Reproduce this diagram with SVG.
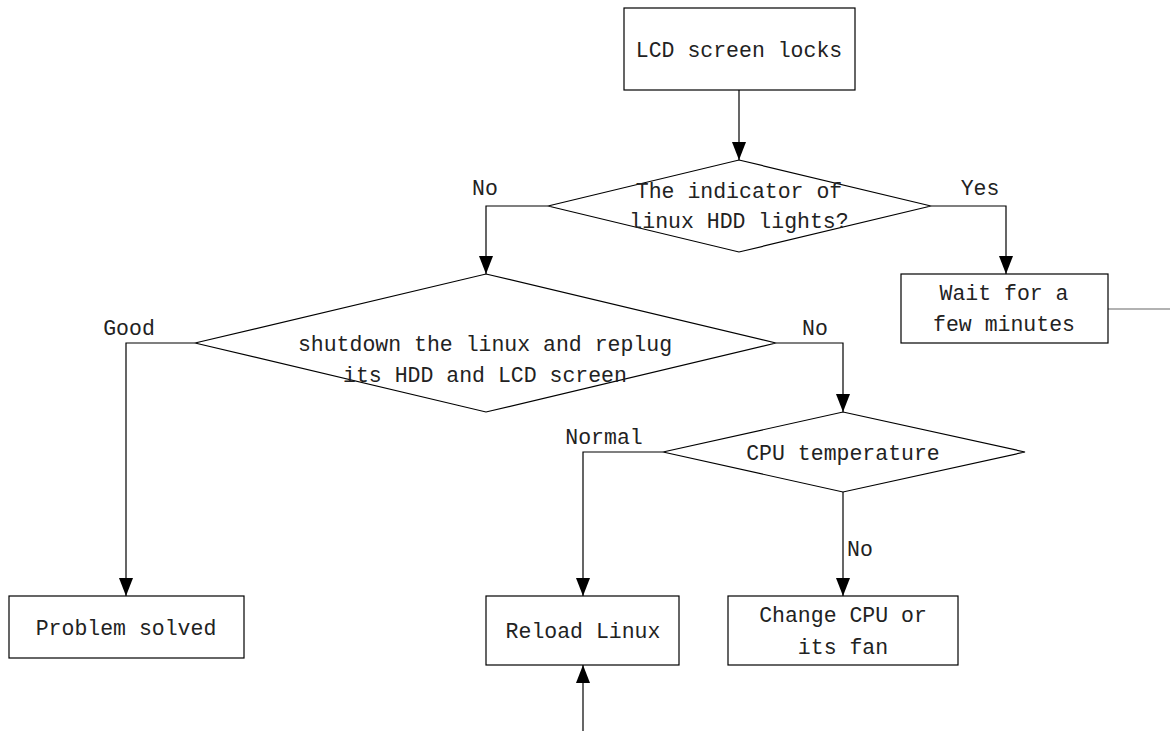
<svg xmlns="http://www.w3.org/2000/svg" width="1170" height="731" viewBox="0 0 1170 731">
<defs>
<marker id="arr" markerWidth="18" markerHeight="14" refX="18" refY="7" orient="auto" markerUnits="userSpaceOnUse">
<path d="M0,0 L18,7 L0,14 Z" fill="#000"/>
</marker>
<style>
.s{fill:#fff;stroke:#000;stroke-width:1.2}
.c{fill:none;stroke:#000;stroke-width:1.2}
text{font-family:"Liberation Mono","DejaVu Sans Mono",monospace;font-size:21.5px;fill:#222}
.m{text-anchor:middle}
</style>
</defs>
<rect width="1170" height="731" fill="#fff"/>
<g id="connectors">
<path class="c" d="M739,90 V160" marker-end="url(#arr)"/>
<path class="c" d="M548,206 H486 V274" marker-end="url(#arr)"/>
<path class="c" d="M931,206 H1006 V274" marker-end="url(#arr)"/>
<path class="c" d="M1108,309 H1170" style="stroke:#666"/>
<path class="c" d="M195,343 H126 V596" marker-end="url(#arr)"/>
<path class="c" d="M776,343 H843 V412" marker-end="url(#arr)"/>
<path class="c" d="M663,452 H583 V596" marker-end="url(#arr)"/>
<path class="c" d="M843,492 V596" marker-end="url(#arr)"/>
<path class="c" d="M583,731 V665" marker-end="url(#arr)"/>
<text x="485" y="195" class="m">No</text>
<text x="980" y="195" class="m">Yes</text>
<text x="129" y="335" class="m">Good</text>
<text x="815" y="335" class="m">No</text>
<text x="604" y="444" class="m">Normal</text>
<text x="860" y="556" class="m">No</text>
</g>
<g id="n-lcd">
<rect class="s" x="624" y="8" width="231" height="82"/>
<text x="739" y="57" class="m">LCD screen locks</text>
</g>
<g id="n-indicator">
<polygon class="s" points="739,160 931,206 739,252 548,206"/>
<text x="739" y="198" class="m">The indicator of</text>
<text x="739" y="228" class="m">linux HDD lights?</text>
</g>
<g id="n-wait">
<rect class="s" x="901" y="274" width="207" height="69"/>
<text x="1004" y="300" class="m">Wait for a</text>
<text x="1004" y="331" class="m">few minutes</text>
</g>
<g id="n-shutdown">
<polygon class="s" points="486,274 776,343 486,412 195,343"/>
<text x="485" y="351" class="m">shutdown the linux and replug</text>
<text x="485" y="382" class="m">its HDD and LCD screen</text>
</g>
<g id="n-cpu">
<polygon class="s" points="843,412 1025,452 843,492 663,452"/>
<text x="843" y="460" class="m">CPU temperature</text>
</g>
<g id="n-solved">
<rect class="s" x="9" y="596" width="235" height="62"/>
<text x="126" y="635" class="m">Problem solved</text>
</g>
<g id="n-reload">
<rect class="s" x="486" y="596" width="193" height="69"/>
<text x="583" y="638" class="m">Reload Linux</text>
</g>
<g id="n-change">
<rect class="s" x="728" y="596" width="230" height="69"/>
<text x="843" y="622" class="m">Change CPU or</text>
<text x="843" y="654" class="m">its fan</text>
</g>
</svg>
